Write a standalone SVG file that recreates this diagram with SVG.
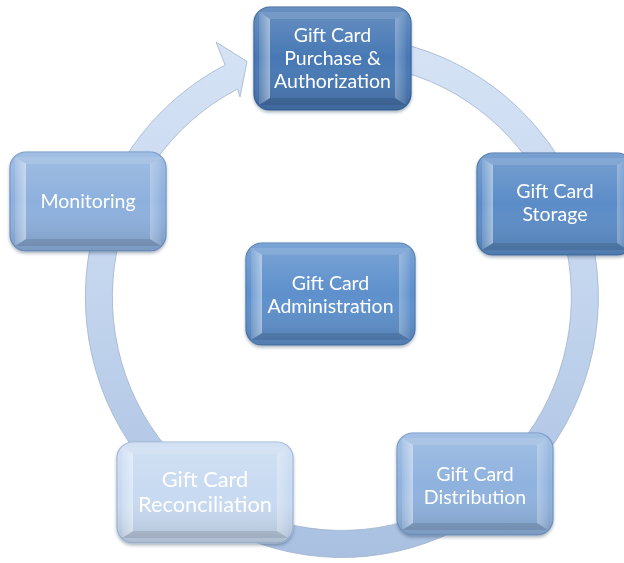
<svg xmlns="http://www.w3.org/2000/svg" width="624" height="563" viewBox="0 0 624 563">
  <defs>
    <linearGradient id="ringFill" x1="0" y1="0" x2="0" y2="1">
      <stop offset="0" stop-color="#d6e3f5"/>
      <stop offset="0.5" stop-color="#c3d5ee"/>
      <stop offset="1" stop-color="#a9c0e1"/>
    </linearGradient>
    <linearGradient id="sheen" x1="0" y1="0" x2="0" y2="1">
      <stop offset="0" stop-color="#ffffff" stop-opacity="0.18"/>
      <stop offset="0.5" stop-color="#ffffff" stop-opacity="0"/>
      <stop offset="1" stop-color="#000000" stop-opacity="0.14"/>
    </linearGradient>
    <linearGradient id="leftBevel" x1="0" y1="0" x2="1" y2="0">
      <stop offset="0" stop-color="#ffffff" stop-opacity="0.12"/>
      <stop offset="1" stop-color="#ffffff" stop-opacity="0.45"/>
    </linearGradient>
    <linearGradient id="rightBevel" x1="0" y1="0" x2="1" y2="0">
      <stop offset="0" stop-color="#ffffff" stop-opacity="0.28"/>
      <stop offset="1" stop-color="#ffffff" stop-opacity="0.05"/>
    </linearGradient>
    <filter id="shadow" x="-10%" y="-10%" width="120%" height="130%">
      <feDropShadow dx="0" dy="2" stdDeviation="1.8" flood-color="#1f3550" flood-opacity="0.35"/>
    </filter>
  </defs>
  <style>
    .ring { fill: url(#ringFill); stroke: #9fb3ce; stroke-width: 0.8; }
    .box { stroke-width: 1.2; }
    .sheen { fill: url(#sheen); }
    .bl { fill: url(#leftBevel); }
    .br { fill: url(#rightBevel); }
    .bt { fill: #ffffff; fill-opacity: 0.12; }
    .bb { fill: #000000; fill-opacity: 0.1; }
    .label { font-family: Lato, "Liberation Sans", sans-serif; font-size: 19.5px; fill: #ffffff; text-anchor: middle; }
    .big { font-size: 21.8px; }
    .c1 { fill: #4778b4; stroke: #34609a; }
    .c2 { fill: #5b8cc7; stroke: #4673a8; }
    .c3 { fill: #5e90cc; stroke: #4a78ae; }
    .c4 { fill: #8db0dd; stroke: #6f92c0; }
    .c5 { fill: #8fb2de; stroke: #7195c3; }
    .c6 { fill: #c8daf1; stroke: #9fb7d6; }
  </style>

  <!-- elliptical circular arrow running clockwise behind the nodes -->
  <g id="connectors">
    <path class="ring" d="M 350.95 36.66 A 256.5 260.5 0 1 1 225.2 65.0 L 216 42 L 247 61.5 L 240 97 L 237.5 89.0 A 229.5 233.5 0 1 0 350.0 63.6 Z"/>
  </g>

  <g id="purchase" transform="translate(254,7)" filter="url(#shadow)">
    <rect class="box c1" width="157" height="103" rx="16"/>
    <rect class="sheen" width="157" height="103" rx="16"/>
    <polygon class="bl" points="5,5 16,12 16,91 5,98"/>
    <polygon class="br" points="152,5 141,12 141,91 152,98"/>
    <polygon class="bt" points="5,5 152,5 141,12 16,12"/>
    <polygon class="bb" points="5,98 152,98 141,91 16,91"/>
    <text class="label" x="78.5" y="35">Gift Card</text>
    <text class="label" x="78.5" y="58">Purchase &amp;</text>
    <text class="label" x="78.5" y="81">Authorization</text>
  </g>

  <g id="storage" transform="translate(477,153)" filter="url(#shadow)">
    <rect class="box c2" width="156" height="102" rx="16"/>
    <rect class="sheen" width="156" height="102" rx="16"/>
    <polygon class="bl" points="5,5 16,12 16,90 5,97"/>
    <polygon class="br" points="151,5 140,12 140,90 151,97"/>
    <polygon class="bt" points="5,5 151,5 140,12 16,12"/>
    <polygon class="bb" points="5,97 151,97 140,90 16,90"/>
    <text class="label" x="78" y="45">Gift Card</text>
    <text class="label" x="78" y="68">Storage</text>
  </g>

  <g id="monitoring" transform="translate(10,152)" filter="url(#shadow)">
    <rect class="box c4" width="156" height="99" rx="16"/>
    <rect class="sheen" width="156" height="99" rx="16"/>
    <polygon class="bl" points="5,5 16,12 16,87 5,94"/>
    <polygon class="br" points="151,5 140,12 140,87 151,94"/>
    <polygon class="bt" points="5,5 151,5 140,12 16,12"/>
    <polygon class="bb" points="5,94 151,94 140,87 16,87"/>
    <text class="label" x="78" y="56">Monitoring</text>
  </g>

  <g id="administration" transform="translate(246,243)" filter="url(#shadow)">
    <rect class="box c3" width="169" height="102" rx="16"/>
    <rect class="sheen" width="169" height="102" rx="16"/>
    <polygon class="bl" points="5,5 16,12 16,90 5,97"/>
    <polygon class="br" points="164,5 153,12 153,90 164,97"/>
    <polygon class="bt" points="5,5 164,5 153,12 16,12"/>
    <polygon class="bb" points="5,97 164,97 153,90 16,90"/>
    <text class="label" x="84.5" y="47">Gift Card</text>
    <text class="label" x="84.5" y="70">Administration</text>
  </g>

  <g id="reconciliation" transform="translate(117,442)" filter="url(#shadow)">
    <rect class="box c6" width="176" height="101" rx="16"/>
    <rect class="sheen" width="176" height="101" rx="16"/>
    <polygon class="bl" points="5,5 16,12 16,89 5,96"/>
    <polygon class="br" points="171,5 160,12 160,89 171,96"/>
    <polygon class="bt" points="5,5 171,5 160,12 16,12"/>
    <polygon class="bb" points="5,96 171,96 160,89 16,89"/>
    <text class="label big" x="88" y="45">Gift Card</text>
    <text class="label big" x="88" y="70">Reconciliation</text>
  </g>

  <g id="distribution" transform="translate(397,433)" filter="url(#shadow)">
    <rect class="box c5" width="156" height="102" rx="16"/>
    <rect class="sheen" width="156" height="102" rx="16"/>
    <polygon class="bl" points="5,5 16,12 16,90 5,97"/>
    <polygon class="br" points="151,5 140,12 140,90 151,97"/>
    <polygon class="bt" points="5,5 151,5 140,12 16,12"/>
    <polygon class="bb" points="5,97 151,97 140,90 16,90"/>
    <text class="label" x="78" y="48">Gift Card</text>
    <text class="label" x="78" y="71">Distribution</text>
  </g>
</svg>
